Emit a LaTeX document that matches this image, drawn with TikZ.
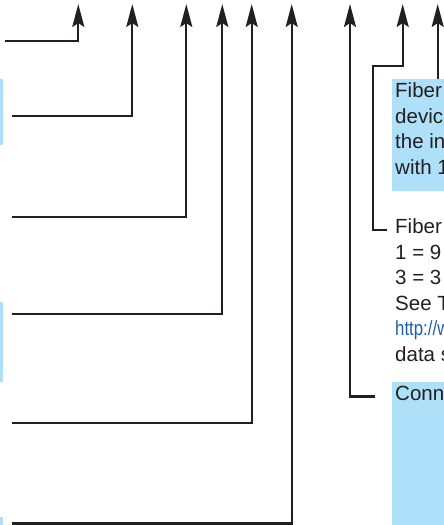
\documentclass[tikz,border=0pt]{standalone}
\usepackage{fontspec}
\setmainfont{Liberation Sans}
\newfontfamily\narrowfont[FakeStretch=0.82]{Liberation Sans}
\usetikzlibrary{arrows.meta}

\definecolor{calloutblue}{RGB}{174,224,250}
\definecolor{inkgray}{RGB}{35,31,32}
\definecolor{linkblue}{RGB}{31,92,168}

\begin{document}
\begin{tikzpicture}[x=1pt, y=-1pt,
        lead/.style={draw=inkgray, line width=2.2pt},
        pointer/.style={lead, -{Stealth[length=23pt, width=12pt, inset=4pt]}},
        callout/.style={fill=calloutblue, inner sep=0pt, anchor=north west},
        note/.style={anchor=north west, inner sep=0pt, align=left, text=inkgray, font=\fontsize{20.5}{25.5}\selectfont}
    ]
        \useasboundingbox (0,0) rectangle (444,525);
        \clip (0,0) rectangle (444,525);

        % Callout boxes
        \node[callout, minimum width=70pt, minimum height=111.5pt] (fiberbox) at (392,79) {};
        \node[callout, minimum width=70pt, minimum height=160pt] (connbox) at (392,382) {};
        \fill[calloutblue] (-10,79) rectangle (3,145);
        \fill[calloutblue] (-10,302) rectangle (3,382);
        \fill[calloutblue] (-10,517) rectangle (3,540);

        % Texts
        \node[note] (fibertxt) at (395,82.5) {Fiber\\devic\\the in\\with 1};
        \node[note] (fiberlist) at (395,218.5) {Fiber\\1 = 9\\3 = 3\\See T\\{\narrowfont\color{linkblue}http://w}\\data s};
        \node[note] (conntxt) at (395,385.5) {Conn};

        % Leaders from the left
        \foreach \i/\xa/\xb/\y in {1/5/78.3/41.3, 2/11.7/132.3/116.3, 3/11.7/186.3/216.7,
                4/11.7/222.3/314, 5/11.7/251.7/422.7, 6/11.7/291.7/523.5} {
            \coordinate (lead\i) at (\xa,\y);
            \coordinate (tip\i) at (\xb,4);
            \draw[pointer] (lead\i) -| (tip\i);
        }

        % Leaders from the right
        \coordinate (tip7) at (350,4);
        \coordinate (tip8) at (402.7,4);
        \coordinate (tip9) at (437.7,4);
        \coordinate (connlead) at (375,396.5);
        \coordinate (fiberlead) at (387,230);
        \coordinate (fiberjog) at (373.3,66);
        \draw[pointer] (connlead) -| (tip7);
        \draw[pointer] (fiberlead) -| (fiberjog) -| (tip8);
        \draw[pointer] (tip9 |- fiberbox.north) -- (tip9);
    \end{tikzpicture}
\end{document}
